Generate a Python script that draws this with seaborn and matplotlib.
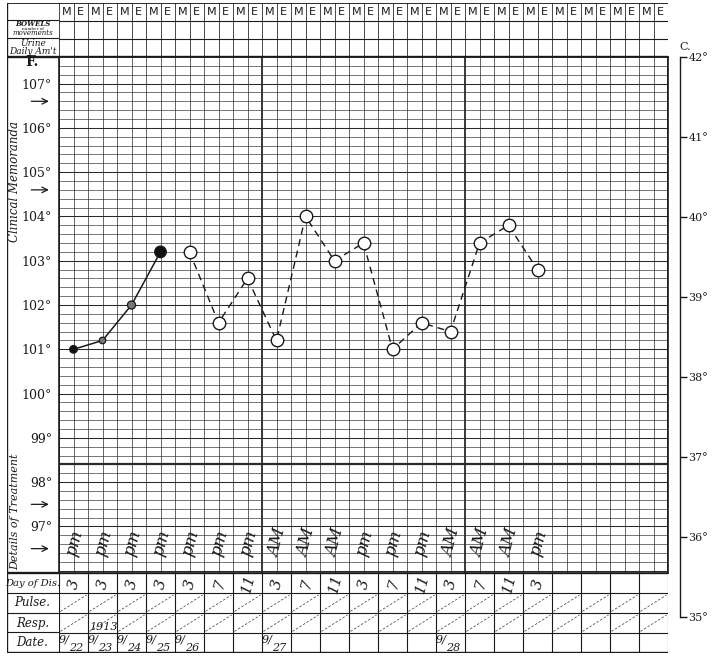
import matplotlib
matplotlib.use("Agg")
import numpy as np
import pandas as pd
import matplotlib.pyplot as plt
import seaborn as sns

sns.set_style("white")
plt.rcParams["font.family"] = ["DejaVu Serif"]

# readings, every 4 hours, Sept 22 - 28 (1913)
hours = [3, 3, 3, 3, 3, 7, 11, 3, 7, 11, 3, 7, 11, 3, 7, 11, 3]
meridiem = ["pm"] * 7 + ["AM"] * 3 + ["pm"] * 3 + ["AM"] * 3 + ["pm"]
temps_f = [101.0, 101.2, 102.0, 103.2, 103.2, 101.6, 102.6, 101.2, 104.0,
           103.0, 103.4, 101.0, 101.6, 101.4, 103.4, 103.8, 102.8]
n_solid = 4  # first readings joined by a solid line, rest dashed
solid_face = ["#111111", "#777777", "#777777", "#111111"]
solid_size = [30, 22, 34, 70]

date_slots = [0, 1, 2, 3, 4, 7, 13]
date_days = ["22", "23", "24", "25", "26", "27", "28"]

f_ticks = [97, 98, 99, 100, 101, 102, 103, 104, 105, 106, 107]
arrow_levels = [106.6, 104.6, 97.5, 96.5]
c_ticks = [35, 36, 37, 38, 39, 40, 41, 42]
row_labels = ["Day of Dis.", "Pulse.", "Resp.", "Date."]

W, H = 712, 658
ink = "#1a1a1a"
grid_ink = "#2a2a2a"
n_cols = 42


def box(x0, y0, x1, y1):
    return [x0 / W, 1 - y1 / H, (x1 - x0) / W, (y1 - y0) / H]


fig = plt.figure(figsize=(W / 100, H / 100), dpi=100)

# ---- main temperature grid
ax = fig.add_axes(box(59, 57, 668, 573))
ax.set_xlim(0, n_cols)
ax.set_ylim(95.95, 107.6)
for c in range(n_cols + 1):
    ax.axvline(c, color=grid_ink, lw=1.3 if c % 14 == 0 else 0.5, zorder=1)
for v in np.round(np.arange(96.0, 107.61, 0.2), 1):
    if abs(v - 98.4) < 1e-6:
        lw = 1.6
    elif abs(v - round(v)) < 1e-6:
        lw = 0.75
    else:
        lw = 0.45
    ax.axhline(v, color=grid_ink, lw=lw, zorder=1)

df = pd.DataFrame({"slot": [1 + 2 * k for k in range(len(temps_f))], "temp": temps_f})
solid = df.iloc[:n_solid]
dashed = df.iloc[n_solid:]
sns.lineplot(data=solid, x="slot", y="temp", ax=ax, color=ink, lw=1.1, zorder=3)
ax.scatter(solid["slot"], solid["temp"], s=solid_size, c=solid_face,
           edgecolors=ink, linewidths=0.9, zorder=4)
sns.lineplot(data=dashed, x="slot", y="temp", ax=ax, color=ink, lw=1.0,
             linestyle=(0, (5, 3.5)), marker="o", markersize=9,
             markerfacecolor="white", markeredgecolor=ink,
             markeredgewidth=1.0, zorder=3)

for k, m in enumerate(meridiem):
    ax.text(1 + 2 * k + 0.1, 96.62, m, rotation=75, fontsize=12,
            style="italic", ha="center", va="center", color=ink)

ax.set_xticks([])
ax.set_yticks(f_ticks)
ax.set_yticklabels([f"{v}°" for v in f_ticks], fontsize=9)
ax.tick_params(axis="y", length=0, pad=5, colors=ink)
ax.set_xlabel("")
ax.set_ylabel("")
for s in ax.spines.values():
    s.set_linewidth(1.2)
    s.set_color(ink)
ax.text(-0.045, 107.48, "F.", transform=ax.get_yaxis_transform(),
        fontsize=10, fontweight="bold", ha="center", va="center", color=ink)
for lv in arrow_levels:
    ax.annotate("", xy=(-0.012, lv), xytext=(-0.05, lv),
                xycoords=ax.get_yaxis_transform(),
                textcoords=ax.get_yaxis_transform(),
                arrowprops=dict(arrowstyle="->", lw=0.9, color=ink))

# ---- header rows
hdr = fig.add_axes(box(59, 3, 668, 57))
hdr.set_xlim(0, n_cols)
hdr.set_ylim(3, 0)
hdr.axis("off")
for c in range(n_cols + 1):
    hdr.axvline(c, color=grid_ink, lw=0.6)
for r, lw in [(0, 1.3), (1, 0.8), (2, 0.8), (3, 1.7)]:
    hdr.axhline(r, color=ink, lw=lw)
for c in range(n_cols):
    hdr.text(c + 0.5, 0.5, "M" if c % 2 == 0 else "E", ha="center",
             va="center", fontsize=8, family="DejaVu Sans", color=ink)

# ---- table below
tab = fig.add_axes(box(59, 573, 668, 653))
tab.set_xlim(0, n_cols)
tab.set_ylim(4, 0)
tab.axis("off")
for c in range(0, n_cols + 1, 2):
    tab.axvline(c, color=ink, lw=0.8)
for r, lw in [(0, 1.7), (1, 0.8), (2, 0.8), (3, 0.8), (4, 1.7)]:
    tab.axhline(r, color=ink, lw=lw)
for row in (1, 2):
    for c in range(0, n_cols, 2):
        tab.plot([c + 0.1, c + 1.9], [row + 0.92, row + 0.1], color="#555555",
                 lw=0.6, linestyle=(0, (3, 2)))
for k, h in enumerate(hours):
    tab.text(1 + 2 * k + 0.05, 0.55, str(h), rotation=75, fontsize=11,
             style="italic", ha="center", va="center", color=ink)
for slot, day in zip(date_slots, date_days):
    tab.text(2 * slot + 0.35, 3.35, "9/", fontsize=8, style="italic",
             ha="center", va="center", color=ink)
    tab.text(2 * slot + 1.2, 3.75, day, fontsize=8, style="italic",
             ha="center", va="center", color=ink)
tab.text(3.1, 2.7, "1913", fontsize=8, style="italic", ha="center",
         va="center", color=ink)

# ---- left label column (pixel units)
lab = fig.add_axes(box(7, 3, 59, 653))
lab.set_xlim(7, 59)
lab.set_ylim(653, 3)
lab.axis("off")
lab.axvline(7, color=ink, lw=1.7)
for y, lw in [(3, 1.3), (20, 0.8), (38, 0.8), (57, 1.7), (573, 1.7),
              (593, 0.8), (613, 0.8), (632, 0.8), (653, 1.7)]:
    lab.axhline(y, color=ink, lw=lw)
lab.text(33, 24, "BOWELS", fontsize=5, fontweight="bold", style="italic",
         ha="center", va="center", color=ink)
lab.text(33, 28.6, "number of", fontsize=3, ha="center", va="center", color=ink)
lab.text(33, 33.4, "movements", fontsize=5, style="italic", ha="center",
         va="center", color=ink)
lab.text(33, 43, "Urine", fontsize=6.5, style="italic", ha="center",
         va="center", color=ink)
lab.text(33, 51, "Daily Am't", fontsize=6.5, style="italic", ha="center",
         va="center", color=ink)
lab.text(15, 181, "Clinical Memoranda", rotation=90, fontsize=8.5,
         style="italic", ha="center", va="center", color=ink)
lab.text(15, 512, "Details of Treatment", rotation=90, fontsize=8,
         style="italic", ha="center", va="center", color=ink)
for i, name in enumerate(row_labels):
    lab.text(32.5, 583 + 20 * i, name, fontsize=7.2 if i == 0 else 8.5,
             style="italic", ha="center", va="center", color=ink)

# ---- Celsius scale
cax = fig.add_axes(box(670, 57, 680, 617))
cax.set_ylim(35, 42)
cax.set_xticks([])
cax.patch.set_alpha(0)
for side in ("left", "top", "bottom"):
    cax.spines[side].set_visible(False)
cax.spines["right"].set_color(ink)
cax.spines["right"].set_linewidth(1.0)
cax.yaxis.tick_right()
cax.set_yticks(c_ticks)
cax.set_yticklabels([f"{v}°" for v in c_ticks], fontsize=8)
cax.tick_params(axis="y", direction="out", length=5, width=1.0, pad=1,
                colors=ink)
cax.text(1.5, 42.13, "C.", transform=cax.get_yaxis_transform(),
         fontsize=8, ha="center", va="center", color=ink)

fig.savefig("out.png", dpi=100)
